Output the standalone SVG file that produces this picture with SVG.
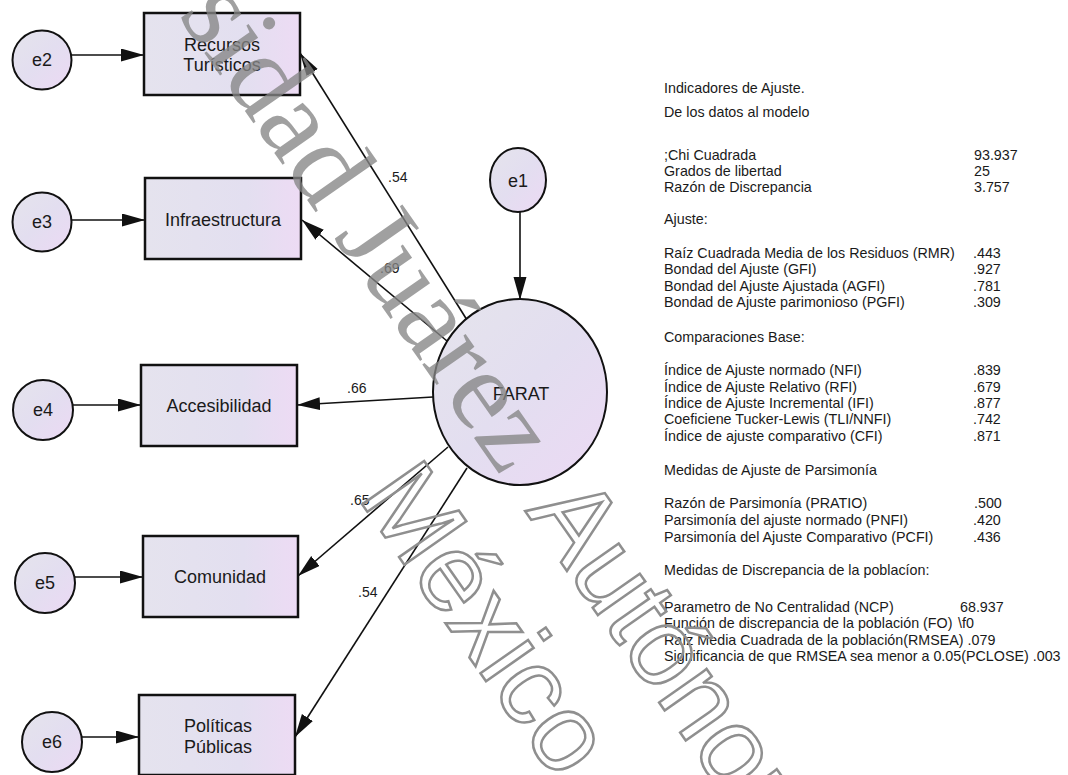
<svg xmlns="http://www.w3.org/2000/svg" width="1068" height="775" viewBox="0 0 1068 775">
<defs>
<style>
.box{stroke:#111;stroke-width:2.5;fill:url(#gb)}
.err{stroke:#111;stroke-width:2;fill:url(#gc)}
.lbl{font-family:"Liberation Sans",Arial,sans-serif;font-size:18px;fill:#1a1a1a;text-anchor:middle}
.coef{font-family:"Liberation Sans",Arial,sans-serif;font-size:14px;fill:#1a1a1a}
.con{stroke:#111;stroke-width:1.6;fill:none;marker-end:url(#ah)}
.t{font-family:"Liberation Sans",Arial,sans-serif;font-size:14.3px;fill:#1a1a1a}
.wm1{font-family:"Liberation Serif","Times New Roman",serif;font-size:115px;fill:#858585;fill-opacity:0.78}
.wm2{font-family:"Liberation Sans",Arial,sans-serif;font-size:110px;fill:none;stroke:#8f8f8f;stroke-width:2.5}
</style>
<linearGradient id="gb" x1="0" y1="0" x2="1" y2="0">
<stop offset="0" stop-color="#e5e3ee"/><stop offset="0.65" stop-color="#e3dff0"/><stop offset="1" stop-color="#eddbf4"/>
</linearGradient>
<linearGradient id="gc" x1="0" y1="0" x2="1" y2="1">
<stop offset="0" stop-color="#e5e4ec"/><stop offset="0.5" stop-color="#e3def0"/><stop offset="1" stop-color="#ecd9f4"/>
</linearGradient>
<marker id="ah" markerUnits="userSpaceOnUse" markerWidth="25" markerHeight="14" refX="23" refY="6.5" orient="auto">
<path d="M0,0 L23,6.5 L0,13 z" fill="#111"/>
</marker>
</defs>
<rect width="1068" height="775" fill="#ffffff"/>

<g id="connectors">
<line class="con" x1="72" y1="55" x2="144" y2="55"/>
<line class="con" x1="72" y1="220" x2="145" y2="220"/>
<line class="con" x1="73" y1="405" x2="141" y2="405"/>
<line class="con" x1="75" y1="577" x2="143" y2="577"/>
<line class="con" x1="82" y1="737" x2="139" y2="737"/>
<line class="con" x1="520" y1="212" x2="520" y2="300"/>
<line class="con" x1="467" y1="320" x2="300" y2="53"/>
<line class="con" x1="447" y1="341" x2="302" y2="220"/>
<line class="con" x1="433" y1="397" x2="297" y2="405"/>
<line class="con" x1="448" y1="447" x2="298" y2="576"/>
<line class="con" x1="467" y1="468" x2="295" y2="737"/>
<text class="coef" x="388" y="182">.54</text>
<text class="coef" x="380" y="273">.69</text>
<text class="coef" x="347" y="393">.66</text>
<text class="coef" x="350" y="505">.65</text>
<text class="coef" x="358" y="597">.54</text>
</g>

<g id="e2"><circle class="err" cx="42" cy="60" r="29.5"/><text class="lbl" x="42" y="66">e2</text></g>
<g id="e3"><circle class="err" cx="42" cy="222" r="29.5"/><text class="lbl" x="42" y="228">e3</text></g>
<g id="e4"><circle class="err" cx="43" cy="410" r="30"/><text class="lbl" x="43" y="416">e4</text></g>
<g id="e5"><circle class="err" cx="45" cy="583" r="30"/><text class="lbl" x="45" y="589">e5</text></g>
<g id="e6"><circle class="err" cx="52" cy="742" r="30"/><text class="lbl" x="52" y="748">e6</text></g>
<g id="e1"><ellipse class="err" cx="518" cy="180" rx="28" ry="32"/><text class="lbl" x="518" y="187">e1</text></g>

<g id="recursos"><rect class="box" x="144" y="13" width="156" height="82"/><text class="lbl" x="222" y="51">Recursos</text><text class="lbl" x="222" y="71">Turísticos</text></g>
<g id="infraestructura"><rect class="box" x="145" y="178" width="156" height="81"/><text class="lbl" x="223" y="226">Infraestructura</text></g>
<g id="accesibilidad"><rect class="box" x="141" y="365" width="156" height="81"/><text class="lbl" x="219" y="412">Accesibilidad</text></g>
<g id="comunidad"><rect class="box" x="143" y="536" width="155" height="81"/><text class="lbl" x="220" y="583">Comunidad</text></g>
<g id="politicas"><rect class="box" x="139" y="695" width="156" height="80"/><text class="lbl" x="218" y="732">Políticas</text><text class="lbl" x="218" y="753">Públicas</text></g>

<g id="farat"><ellipse class="err" cx="520" cy="392" rx="87" ry="93"/><text class="lbl" x="521" y="400">FARAT</text></g>

<g id="indicadores">
<text class="t" x="664" y="93">Indicadores de Ajuste.</text>
<text class="t" x="664" y="117">De los datos al modelo</text>
<text class="t" x="664" y="160">;Chi Cuadrada</text><text class="t" x="974" y="160">93.937</text>
<text class="t" x="664" y="176">Grados de libertad</text><text class="t" x="974" y="176">25</text>
<text class="t" x="664" y="192">Razón de Discrepancia</text><text class="t" x="974" y="192">3.757</text>
<text class="t" x="664" y="224">Ajuste:</text>
<text class="t" x="664" y="258">Raíz Cuadrada Media de los Residuos (RMR)</text><text class="t" x="973" y="258">.443</text>
<text class="t" x="664" y="274">Bondad del Ajuste (GFI)</text><text class="t" x="973" y="274">.927</text>
<text class="t" x="664" y="291">Bondad del Ajuste Ajustada (AGFI)</text><text class="t" x="973" y="291">.781</text>
<text class="t" x="664" y="307">Bondad de Ajuste parimonioso (PGFI)</text><text class="t" x="973" y="307">.309</text>
<text class="t" x="664" y="342">Comparaciones Base:</text>
<text class="t" x="664" y="375">Índice de Ajuste normado (NFI)</text><text class="t" x="973" y="375">.839</text>
<text class="t" x="664" y="392">Índice de Ajuste Relativo (RFI)</text><text class="t" x="973" y="392">.679</text>
<text class="t" x="664" y="408">Índice de Ajuste Incremental (IFI)</text><text class="t" x="973" y="408">.877</text>
<text class="t" x="664" y="424">Coeficiene Tucker-Lewis (TLI/NNFI)</text><text class="t" x="973" y="424">.742</text>
<text class="t" x="664" y="441">Índice de ajuste comparativo (CFI)</text><text class="t" x="973" y="441">.871</text>
<text class="t" x="664" y="475">Medidas de Ajuste de Parsimonía</text>
<text class="t" x="664" y="508">Razón de Parsimonía (PRATIO)</text><text class="t" x="974" y="508">.500</text>
<text class="t" x="664" y="525">Parsimonía del ajuste normado (PNFI)</text><text class="t" x="973" y="525">.420</text>
<text class="t" x="664" y="542">Parsimonía del Ajuste Comparativo (PCFI)</text><text class="t" x="973" y="542">.436</text>
<text class="t" x="664" y="575">Medidas de Discrepancia de la poblacíon:</text>
<text class="t" x="664" y="612">Parametro de No Centralidad (NCP)</text><text class="t" x="960" y="612">68.937</text>
<text class="t" x="664" y="628">Función de discrepancia de la población (FO)</text><text class="t" x="958" y="628">\f0</text>
<text class="t" x="664" y="645">Raíz Media Cuadrada de la población(RMSEA) .079</text>
<text class="t" x="664" y="661">Significancia de que RMSEA sea menor a 0.05(PCLOSE) .003</text>
</g>

<g id="watermark">
<text class="wm1" transform="translate(525,511) rotate(55)" x="-41" y="0" text-anchor="end">sidad Juárez</text>
<text class="wm2" transform="translate(525,511) rotate(55)" x="0" y="0">Autónoma</text>
<text class="wm2" transform="translate(357,497) rotate(55)" x="0" y="0">México.</text>
</g>
</svg>
